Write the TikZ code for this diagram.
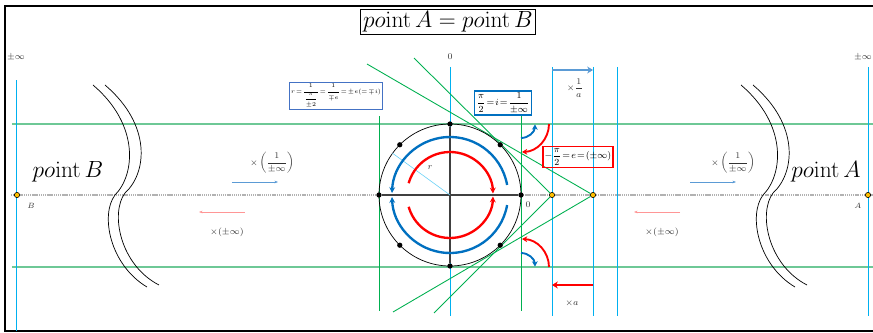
\documentclass[tikz,border=0pt]{standalone}
\usepackage{fix-cm}
\usepackage{amsmath}
\usepackage{amssymb}
\usetikzlibrary{arrows.meta}
\definecolor{lineblue}{RGB}{0,176,240}
\definecolor{tangreen}{RGB}{0,176,80}
\definecolor{levgreen}{RGB}{110,200,150}
\definecolor{arcblue}{RGB}{0,112,192}
\definecolor{arcred}{RGB}{255,0,0}
\definecolor{topblue}{RGB}{91,155,213}
\definecolor{boxblue}{RGB}{68,114,196}
\definecolor{pinkred}{RGB}{255,150,150}
\definecolor{ptyellow}{RGB}{255,192,0}
\newcommand{\pnt}[1]{po\mathrm{int}\,#1}
\newcommand{\timesinv}{\times\left(\dfrac{1}{\pm\infty}\right)}
\newcommand{\tight}{\thickmuskip=2mu\medmuskip=1mu}
\newcommand{\wavebrace}[1]{%
  \begin{scope}[shift={#1}]
    \draw[line width=0.6pt] (0,0) .. controls (47,-40) and (42,-90) .. (22,-110)
      .. controls (7,-130) and (17,-180) .. (54,-202);
    \draw[line width=0.6pt] (12,0) .. controls (59,-40) and (54,-88) .. (32,-108)
      .. controls (17,-128) and (27,-180) .. (66,-200);
  \end{scope}}

\begin{document}
\begin{tikzpicture}[scale=0.03,
    blackdot/.style={circle,fill=black,inner sep=0pt,minimum size=4.5pt},
    pointdot/.style={circle,draw=black,fill=ptyellow,inner sep=0pt,minimum size=4.5pt,line width=0.5pt},
    small/.style={font=\fontsize{7.5}{9}\selectfont,text=black!80},
    big/.style={font=\fontsize{20}{24}\selectfont},
    vline/.style={draw=lineblue,line width=0.85pt},
    levelline/.style={draw=levgreen,line width=1.2pt},
    tangentline/.style={draw=tangreen,line width=0.75pt},
    bigarc/.style={line width=2pt,-{Stealth[length=5pt,width=5pt]}},
    smallarc/.style={line width=1.6pt,-{Stealth[length=4.5pt,width=5pt]}}
  ]
  \useasboundingbox (-450,-137) rectangle (423,195);
  \draw[line width=1.6pt] (-445,-136) rectangle (430,189);

  \draw[levelline] (-438,71) -- (423,71) (-438,-72) -- (423,-72);
  \draw[gray!60,dash pattern=on 1pt off 0.6pt,line width=1pt] (-439,0) -- (423,0);

  \draw[vline] (-433,115) -- (-433,-136);
  \draw[vline] (0,128) -- (0,-121) (102,128) -- (102,-121) (143,128) -- (143,-121)
    (167,128) -- (167,-121) (418,128) -- (418,-121);
  \draw[tangentline,line width=0.85pt] (-71,79) -- (-71,-116) (71,79) -- (71,-116);

  \node[pointdot] (P) at (102,0) {};
  \node[pointdot] (Q) at (143,0) {};
  \node[pointdot] (PB) at (-433,0) {};
  \node[pointdot] (PA) at (418,0) {};

  \coordinate (t1) at (-83,131);
  \coordinate (t2) at (-36,137);
  \coordinate (t3) at (-57,-117);
  \coordinate (t4) at (-16,-118);
  \path[tangentline]
    (t1) edge (Q)
    (t2) edge (P)
    (t3) edge (Q)
    (t4) edge (P);

  \draw[line width=0.6pt] (0,0) circle[radius=71];
  \node[blackdot] (c0) at (0:71) {};
  \node[blackdot] (c45) at (45:71) {};
  \node[blackdot] (c90) at (90:71) {};
  \node[blackdot] (c135) at (135:71) {};
  \node[blackdot] (c180) at (180:71) {};
  \node[blackdot] (c225) at (225:71) {};
  \node[blackdot] (c270) at (270:71) {};
  \node[blackdot] (c315) at (315:71) {};
  \draw[black!75,line width=1pt] (c180) -- (c0) (c90) -- (c270);

  \coordinate (O) at (0,0);
  \coordinate (rend) at (144:71);
  \draw[lineblue!60,line width=0.5pt] (O) -- (rend);
  \node[small] at (-20,27) {$r$};

  \draw[bigarc,arcblue] (10:58) arc[start angle=10,end angle=178,radius=58];
  \draw[bigarc,arcblue] (-10:58) arc[start angle=-10,end angle=-178,radius=58];
  \draw[bigarc,arcred] (164:43) arc[start angle=164,end angle=2,radius=43];
  \draw[bigarc,arcred] (196:43) arc[start angle=196,end angle=358,radius=43];

  \draw[smallarc,arcblue] (71,57) arc[start angle=-90,end angle=-2,radius=14];
  \draw[smallarc,arcred] (99,71) arc[start angle=0,end angle=-88,radius=28];
  \draw[smallarc,arcblue] (71,-58) arc[start angle=90,end angle=2,radius=14];
  \draw[smallarc,arcred] (99,-72) arc[start angle=0,end angle=88,radius=28];

  \draw[topblue,line width=1.5pt,-{Stealth[length=5pt,width=6pt]}] (102,125) -- (143,125);
  \draw[arcred,line width=1.5pt,-{Stealth[length=5pt,width=6pt]}] (143,-90) -- (102,-90);
  \node[small] at (125,107) {$\times\dfrac{1}{a}$};
  \node[small] at (122,-108) {$\times a$};

  \draw[topblue,line width=0.6pt,-{Stealth[length=3pt]}] (-218,13) -- (-172,13);
  \draw[topblue,line width=0.6pt,-{Stealth[length=3pt]}] (240,13) -- (286,13);
  \draw[pinkred,line width=0.8pt,-{Stealth[length=3pt]}] (-205,-17) -- (-251,-17);
  \draw[pinkred,line width=0.8pt,-{Stealth[length=3pt]}] (230,-17) -- (184,-17);
  \node[small] at (-178,32) {$\timesinv$};
  \node[small] at (283,32) {$\timesinv$};
  \node[small] at (-223,-37) {$\times(\pm\infty)$};
  \node[small] at (212,-37) {$\times(\pm\infty)$};

  \node[small] at (-434,138) {$\pm\infty$};
  \node[small] at (413,138) {$\pm\infty$};
  \node[small] at (0,138) {$0$};
  \node[small] at (78,-10) {$0$};
  \node[small,font=\fontsize{6.5}{8}\selectfont] at (-419,-11) {$B$};
  \node[small,font=\fontsize{6.5}{8}\selectfont] at (408,-11) {$A$};

  \wavebrace{(-357,110)}
  \wavebrace{(291,110)}
  \node[big] (ptB) at (-382,23) {$\pnt{B}$};
  \node[big] (ptA) at (376,23) {$\pnt{A}$};

  \node[big,draw,line width=0.8pt,inner sep=2pt] (title) at (-2,173) {$\pnt{A}=\pnt{B}$};

  \node[draw=boxblue,line width=0.8pt,inner sep=1.5pt,font=\fontsize{5}{6}\selectfont]
    (rbox) at (-114,99) {$\tight r=\dfrac{1}{\dfrac{\pi}{\pm 2}}=\dfrac{1}{\mp e}=\pm e(=\mp i)$};
  \node[draw=arcblue,line width=1pt,inner sep=1.5pt,font=\fontsize{8}{9.5}\selectfont]
    (ibox) at (53,92) {$\tight\dfrac{\pi}{2}=i=\dfrac{1}{\pm\infty}$};
  \node[draw=arcred,line width=1pt,inner sep=1.5pt,font=\fontsize{8}{9.5}\selectfont]
    (ebox) at (128,38) {$\tight -\dfrac{\pi}{2}=e=(\pm\infty)$};
\end{tikzpicture}
\end{document}
